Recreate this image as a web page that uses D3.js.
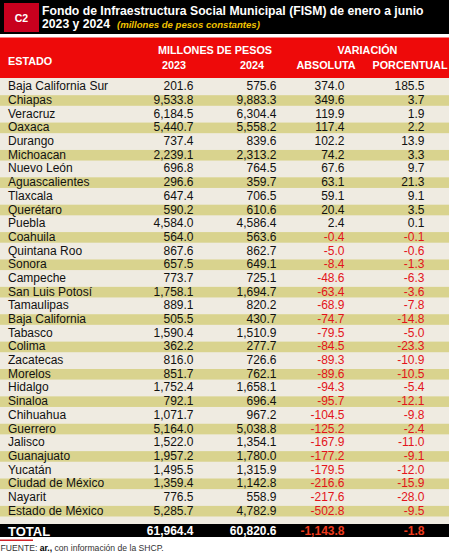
<!DOCTYPE html>
<html><head><meta charset="utf-8">
<script src="https://cdn.jsdelivr.net/npm/d3@7"></script>
<style>html,body{margin:0;padding:0;background:#fff;}svg{display:block;}</style>
</head><body>
<script>
const estados = ["Baja California Sur","Chiapas","Veracruz","Oaxaca","Durango","Michoacan","Nuevo León","Aguascalientes","Tlaxcala","Querétaro","Puebla","Coahuila","Quintana Roo","Sonora","Campeche","San Luis Potosí","Tamaulipas","Baja California","Tabasco","Colima","Zacatecas","Morelos","Hidalgo","Sinaloa","Chihuahua","Guerrero","Jalisco","Guanajuato","Yucatán","Ciudad de México","Nayarit","Estado de México"];
const v2023 = [201.6,9533.8,6184.5,5440.7,737.4,2239.1,696.8,296.6,647.4,590.2,4584.0,564.0,867.6,657.5,773.7,1758.1,889.1,505.5,1590.4,362.2,816.0,851.7,1752.4,792.1,1071.7,5164.0,1522.0,1957.2,1495.5,1359.4,776.5,5285.7];
const v2024 = [575.6,9883.3,6304.4,5558.2,839.6,2313.2,764.5,359.7,706.5,610.6,4586.4,563.6,862.7,649.1,725.1,1694.7,820.2,430.7,1510.9,277.7,726.6,762.1,1658.1,696.4,967.2,5038.8,1354.1,1780.0,1315.9,1142.8,558.9,4782.9];
const absoluta = [374.0,349.6,119.9,117.4,102.2,74.2,67.6,63.1,59.1,20.4,2.4,-0.4,-5.0,-8.4,-48.6,-63.4,-68.9,-74.7,-79.5,-84.5,-89.3,-89.6,-94.3,-95.7,-104.5,-125.2,-167.9,-177.2,-179.5,-216.6,-217.6,-502.8];
const porcentual = [185.5,3.7,1.9,2.2,13.9,3.3,9.7,21.3,9.1,3.5,0.1,-0.1,-0.6,-1.3,-6.3,-3.6,-7.8,-14.8,-5.0,-23.3,-10.9,-10.5,-5.4,-12.1,-9.8,-2.4,-11.0,-9.1,-12.0,-15.9,-28.0,-9.5];
const totales = [61964.4,60820.6,-1143.8,-1.8];
const columnas = ["2023","2024","ABSOLUTA","PORCENTUAL"];
const titulo1 = "Fondo de Infraestructura Social Municipal (FISM) de enero a junio";
const titulo2 = "2023 y 2024";
const subtitulo = "(millones de pesos constantes)";

const W = 453, H = 558, TW = 449;
const loc = d3.formatLocale({decimal:".", thousands:",", grouping:[3], currency:["$",""], minus:"-"});
const fmt = loc.format(",.1f");
const FONT = "'Liberation Sans', Arial, Helvetica, sans-serif";

const svg = d3.select("body").append("svg").attr("width", W).attr("height", H)
  .style("font-family", FONT);

// Title bar
svg.append("rect").attr("x",0).attr("y",0).attr("width",TW).attr("height",34).attr("fill","#000");
svg.append("rect").attr("x",4).attr("y",3).attr("width",35).attr("height",29).attr("fill","#c8001e");
svg.append("text").attr("x",21.5).attr("y",21.5).attr("text-anchor","middle").attr("fill","#fff")
  .attr("font-size",10.5).attr("font-weight","bold").text("C2");
const t1 = svg.append("text").attr("x",42).attr("y",14.5).attr("fill","#fff").attr("font-weight","bold")
  .attr("font-size",12).text(titulo1);
const w1 = t1.node().getComputedTextLength();
const fs = 12 * 382 / w1;
t1.attr("font-size", fs);
const t2 = svg.append("text").attr("x",42).attr("y",28).attr("fill","#fff").attr("font-weight","bold")
  .attr("font-size",fs).text(titulo2);
const w2 = t2.node().getComputedTextLength();
svg.append("text").attr("x",42 + w2 + 7).attr("y",27.5).attr("fill","#f2c200").attr("font-weight","bold")
  .attr("font-style","italic").attr("font-size",9.6).text(subtitulo);

// Header
svg.append("rect").attr("x",0).attr("y",37.5).attr("width",TW).attr("height",40.5).attr("fill","#ee0a0a");
const hdr = (x,y,t,anchor) => svg.append("text").attr("x",x).attr("y",y).attr("text-anchor",anchor||"middle")
  .attr("fill","#fff").attr("font-weight","bold").attr("font-size",10.8).text(t);
hdr(8,65,"ESTADO","start");
hdr(215,53.5,"MILLONES DE PESOS");
hdr(367.5,53.5,"VARIACIÓN");
const xHead = d3.scaleOrdinal().domain(columnas).range([174,252,326,410]);
columnas.forEach(c => hdr(xHead(c),68.5,c));

// Body
const y = d3.scaleBand().domain(estados).range([80, 80 + 13.69*estados.length]).padding(0);
svg.append("rect").attr("x",0).attr("y",78).attr("width",TW).attr("height",446).attr("fill","#efebe1");
svg.append("g").selectAll("rect").data(estados.filter((d,i)=>i%2===1)).join("rect")
  .attr("x",0).attr("width",TW).attr("y",d=>y(d)+1.5).attr("height",10.6).attr("fill","#d9d38e");

const xRight = d3.scaleOrdinal().domain(columnas).range([193.5,276.5,344.5,424.5]);
const rows = svg.append("g").selectAll("g").data(estados.map((e,i)=>({e,i}))).join("g")
  .attr("transform", d=>`translate(0,${y(d.e)+10.3})`);
rows.append("text").attr("x",8).attr("font-size",12).attr("fill","#111").text(d=>d.e);
const series = [v2023, v2024, absoluta, porcentual];
columnas.forEach((c,ci) => {
  rows.append("text").attr("x",xRight(c)).attr("text-anchor","end").attr("font-size",12)
    .attr("fill", d => series[ci][d.i] < 0 ? "#e3141b" : "#111")
    .text(d => fmt(series[ci][d.i]));
});

// Total row
svg.append("rect").attr("x",0).attr("y",524).attr("width",TW).attr("height",13).attr("fill","#000");
svg.append("text").attr("x",8).attr("y",535.5).attr("fill","#fff").attr("font-weight","bold")
  .attr("font-size",13).text("TOTAL");
columnas.forEach((c,ci) => {
  svg.append("text").attr("x",xRight(c)).attr("y",534.5).attr("text-anchor","end")
    .attr("font-weight","bold").attr("font-size",12)
    .attr("fill", totales[ci] < 0 ? "#ee3a1c" : "#fff").text(fmt(totales[ci]));
});

// Source
svg.append("rect").attr("x",0).attr("y",539.5).attr("width",33).attr("height",1.5).attr("fill","#d2232a");
const src = svg.append("text").attr("x",0.5).attr("y",551).attr("font-size",8.6).attr("fill","#333");
src.append("tspan").text("FUENTE: ");
src.append("tspan").attr("font-weight","bold").attr("fill","#000").text("ar.,");
src.append("tspan").text(" con información de la SHCP.");
</script>
</body></html>
